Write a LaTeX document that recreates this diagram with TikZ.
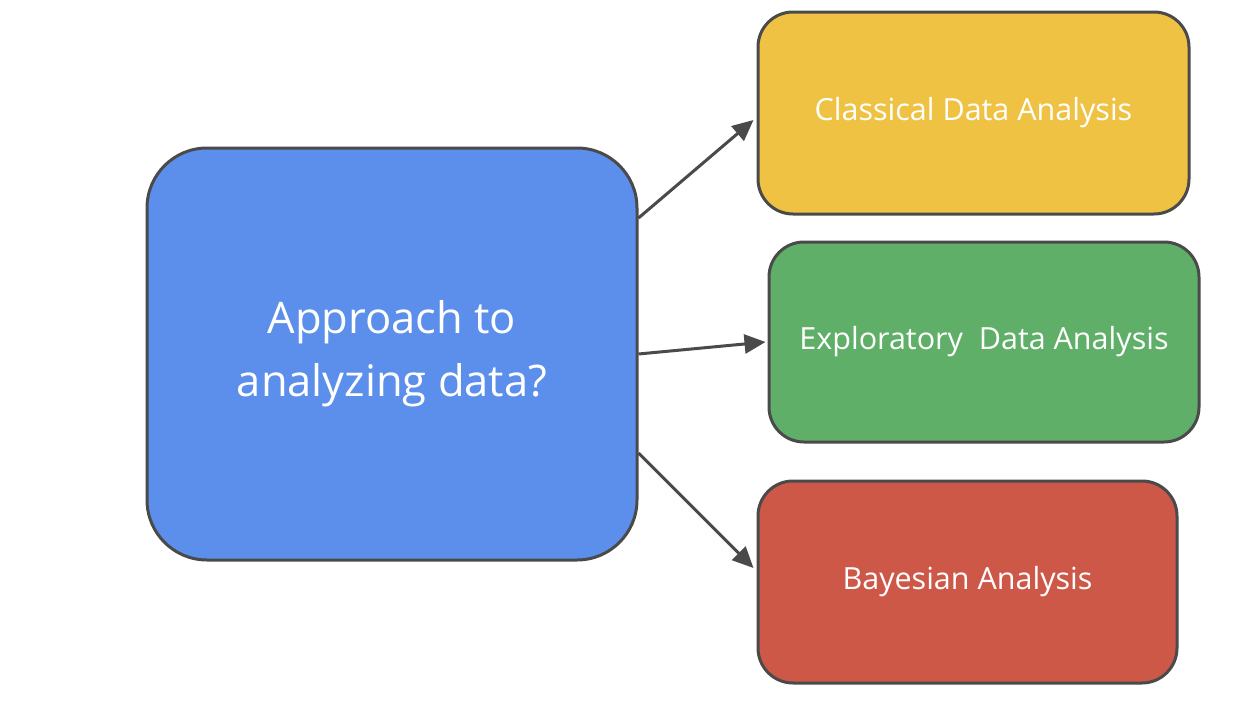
\documentclass[tikz,border=0pt]{standalone}
\usepackage{fontspec}
\setmainfont{Open Sans}
\usetikzlibrary{arrows.meta}
\definecolor{bluefill}{HTML}{5B8FEB}
\definecolor{yellowfill}{HTML}{F0C243}
\definecolor{greenfill}{HTML}{5FAF68}
\definecolor{redfill}{HTML}{CD5848}
\definecolor{edge}{HTML}{4A4A4A}
\tikzset{
  box/.style={draw=edge, line width=3pt, rounded corners=#1, text=white, align=center, inner sep=0pt},
  smalltext/.style={font=\fontsize{30.5}{36}\selectfont},
  arr/.style={draw=edge, line width=3pt, -{Triangle[length=21pt,width=19pt]}},
}
\begin{document}
\begin{tikzpicture}[x=1pt,y=-1pt]
\useasboundingbox[fill=white] (0,0) rectangle (1254,712);
\node[box=60pt, fill=bluefill, minimum width=490pt, minimum height=412pt,
  font=\fontsize{43.5}{63}\selectfont] (blue) at (392,354) {Approach to\\analyzing data?};
\node[box=35pt, fill=yellowfill, minimum width=431pt, minimum height=202pt,
  smalltext] (yellow) at (973.5,113) {Classical Data Analysis};
\node[box=35pt, fill=greenfill, minimum width=430pt, minimum height=200pt,
  smalltext] (green) at (984,342) {Exploratory\ \ Data Analysis};
\node[box=35pt, fill=redfill, minimum width=419pt, minimum height=202pt,
  smalltext] (red) at (967.5,582) {Bayesian Analysis};
\draw[arr] ([yshift=136pt]blue.east) -- ([xshift=-3pt,yshift=-7pt]yellow.west);
\draw[arr] (blue.east) -- ([xshift=-2pt]green.west);
\draw[arr] ([yshift=-99pt]blue.east) -- ([xshift=-3pt,yshift=14pt]red.west);
\end{tikzpicture}
\end{document}
